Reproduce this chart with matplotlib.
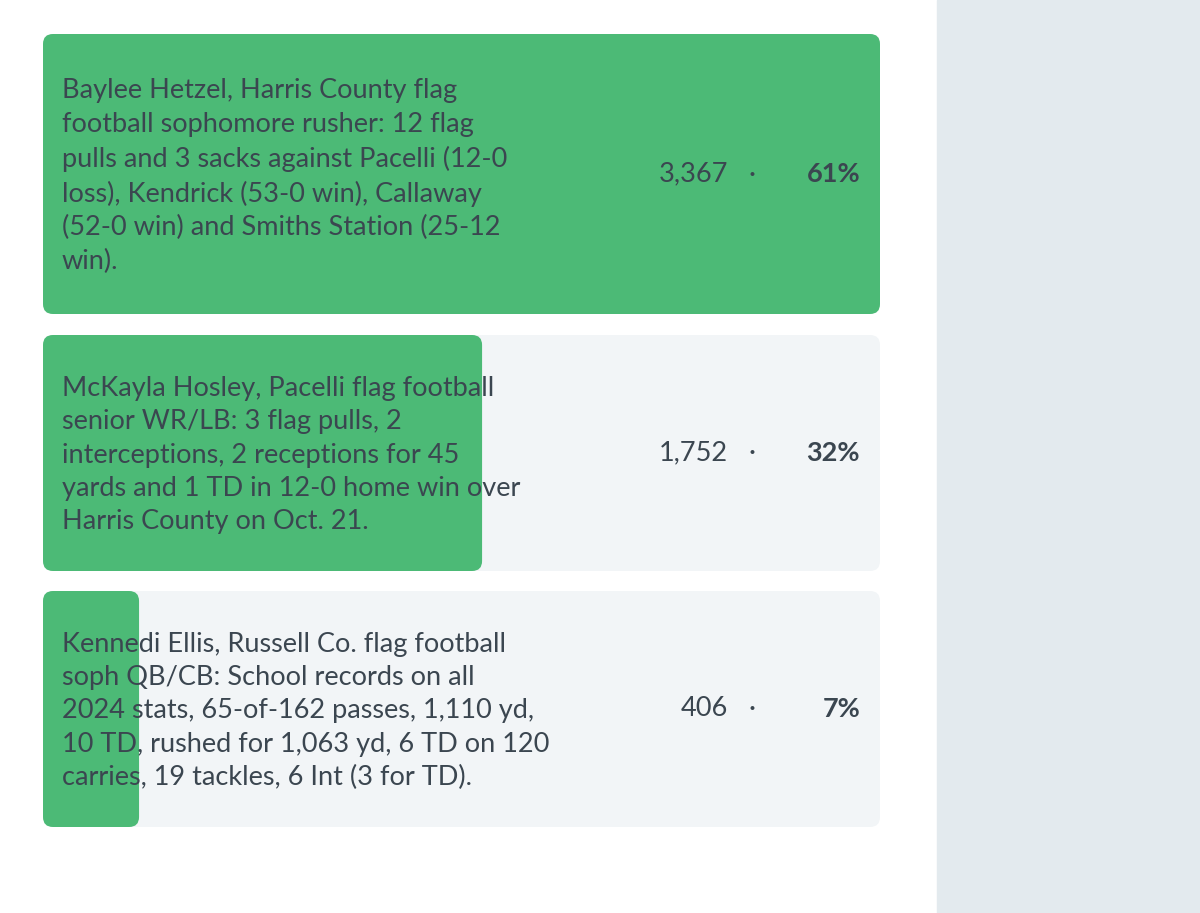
import matplotlib
matplotlib.use("Agg")
import matplotlib.pyplot as plt
from matplotlib.patches import FancyBboxPatch, Rectangle

labels = [
    "Baylee Hetzel, Harris County flag\nfootball sophomore rusher: 12 flag\npulls and 3 sacks against Pacelli (12-0\nloss), Kendrick (53-0 win), Callaway\n(52-0 win) and Smiths Station (25-12\nwin).",
    "McKayla Hosley, Pacelli flag football\nsenior WR/LB: 3 flag pulls, 2\ninterceptions, 2 receptions for 45\nyards and 1 TD in 12-0 home win over\nHarris County on Oct. 21.",
    "Kennedi Ellis, Russell Co. flag football\nsoph QB/CB: School records on all\n2024 stats, 65-of-162 passes, 1,110 yd,\n10 TD, rushed for 1,063 yd, 6 TD on 120\ncarries, 19 tackles, 6 Int (3 for TD).",
]
votes = [3367, 1752, 406]
percents = [61, 32, 7]

fig = plt.figure(figsize=(12, 9.13), dpi=100)
ax = fig.add_axes([0, 0, 1, 1])
ax.set_xlim(0, 1200)
ax.set_ylim(913, 0)
ax.axis("off")
ax.add_patch(Rectangle((937, 0), 263, 913, color="#e3eaee", zorder=0))

rows = [(34, 314), (335, 571), (591, 827)]
x0, x1 = 43, 880
green = "#4cba76"
txt = "#3b4650"
maxp = max(percents)
for (y0, y1), lab, v, p in zip(rows, labels, votes, percents):
    h = y1 - y0
    ax.add_patch(FancyBboxPatch((x0, y0), x1 - x0, h, boxstyle="round,pad=0,rounding_size=10",
                                fc="#f2f5f7", ec="none", zorder=1))
    w = (x1 - x0) * p / maxp
    ax.add_patch(FancyBboxPatch((x0, y0), w, h, boxstyle="round,pad=0,rounding_size=10",
                                fc=green, ec="none", zorder=2))
    yc = (y0 + y1) / 2
    ax.text(62, yc + 2, lab, fontsize=19.5, family="Lato", color=txt, va="center", ha="left",
            linespacing=1.42, zorder=3)
    ax.text(728, yc, f"{v:,}", fontsize=19.5, family="Lato", color=txt, va="center", ha="right", zorder=3)
    ax.text(752, yc, "·", fontsize=19.5, family="Lato", color=txt, va="center", ha="center", zorder=3)
    ax.text(860, yc, f"{p}%", fontsize=19.5, family="Lato", weight="bold", color=txt,
            va="center", ha="right", zorder=3)

fig.savefig("out.png", dpi=100)
